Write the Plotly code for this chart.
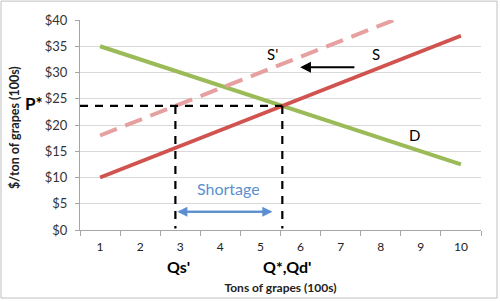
import numpy as np
import plotly.graph_objects as go

quantity = [1, 2, 3, 4, 5, 6, 7, 8, 9, 10]
supply = [10, 13, 16, 19, 22, 25, 28, 31, 34, 37]
demand = [35, 32.5, 30, 27.5, 25, 22.5, 20, 17.5, 15, 12.5]
supply_new = [18, 21, 24, 27, 30, 33, 36, 39, 42, 45]
y_ticks = [0, 5, 10, 15, 20, 25, 30, 35, 40]
y_labels = ["$" + str(v) for v in y_ticks]

q = np.array(quantity, float)
s = np.array(supply, float)
d = np.array(demand, float)
s2 = np.array(supply_new, float)
# equilibrium of S and D
sp = np.polyfit(q, s, 1)
dp = np.polyfit(q, d, 1)
s2p = np.polyfit(q, s2, 1)
q_star = (dp[1] - sp[1]) / (sp[0] - dp[0])
p_star = sp[0] * q_star + sp[1]
q_s2 = (p_star - s2p[1]) / s2p[0]

RED = "#D0534F"
PINK = "#E6A09F"
GREEN = "#9BBB59"
BLUE = "#5B8FCF"
FONT = "Lato, Open Sans, Liberation Sans, sans-serif"

fig = go.Figure()
fig.add_trace(go.Scatter(x=quantity, y=demand, mode="lines",
                         line=dict(color=GREEN, width=4), showlegend=False))
fig.add_trace(go.Scatter(x=quantity, y=supply, mode="lines",
                         line=dict(color=RED, width=4), showlegend=False))
fig.add_trace(go.Scatter(x=quantity, y=supply_new, mode="lines",
                         line=dict(color=PINK, width=4, dash="18px,9px"), showlegend=False))
# dashed guides
fig.add_trace(go.Scatter(x=[0.5, q_star], y=[p_star, p_star], mode="lines",
                         line=dict(color="black", width=2.2, dash="8px,7px"), showlegend=False))
fig.add_trace(go.Scatter(x=[q_s2, q_s2], y=[p_star, 0.3], mode="lines",
                         line=dict(color="black", width=2.2, dash="8px,7px"), showlegend=False))
fig.add_trace(go.Scatter(x=[q_star, q_star], y=[p_star, 0.3], mode="lines",
                         line=dict(color="black", width=2.2, dash="8px,7px"), showlegend=False))

ann = []
# shortage double arrow
ann.append(dict(x=q_s2 + 0.05, y=3.5, ax=q_star - 0.25, ay=3.5, xref="x", yref="y",
                axref="x", ayref="y", text="", showarrow=True, arrowhead=2,
                arrowsize=1, arrowwidth=2, arrowcolor=BLUE))
ann.append(dict(x=q_star - 0.25, y=3.5, ax=q_s2 + 0.05, ay=3.5, xref="x", yref="y",
                axref="x", ayref="y", text="", showarrow=True, arrowhead=2,
                arrowsize=1, arrowwidth=2, arrowcolor=BLUE))
ann.append(dict(x=(q_s2 + q_star) / 2 - 0.02, y=8.0, text="Shortage", showarrow=False,
                font=dict(size=16, color=BLUE, family=FONT)))
# shift arrow
ann.append(dict(x=5.99, y=31.0, ax=7.38, ay=31.0, xref="x", yref="y", axref="x", ayref="y",
                text="", showarrow=True, arrowhead=2, arrowsize=1.2, arrowwidth=1.8,
                arrowcolor="black"))
ann.append(dict(x=5.31, y=33.6, text="S'", showarrow=False,
                font=dict(size=15, color="black", family=FONT)))
ann.append(dict(x=7.88, y=33.6, text="S", showarrow=False,
                font=dict(size=15, color="black", family=FONT)))
ann.append(dict(x=8.83, y=18.1, text="D", showarrow=False,
                font=dict(size=15, color="black", family=FONT)))
ann.append(dict(x=-0.088, y=p_star + 0.5, xref="paper", yref="y", text="<b>P*</b>",
                showarrow=False, xanchor="right", yanchor="middle",
                font=dict(size=17, color="black", family=FONT)))
ann.append(dict(x=q_s2 + 0.07, y=-0.172, xref="x", yref="paper", text="<b>Qs'</b>",
                showarrow=False, yanchor="middle",
                font=dict(size=16, color="black", family=FONT)))
ann.append(dict(x=q_star + 0.12, y=-0.172, xref="x", yref="paper", text="<b>Q*,Qd'</b>",
                showarrow=False, yanchor="middle",
                font=dict(size=16, color="black", family=FONT)))
# y-axis title
ann.append(dict(x=-0.165, y=0.49, xref="paper", yref="paper", text="<b>$/ton of grapes (100s)</b>",
                textangle=-90, showarrow=False, xanchor="center", yanchor="middle",
                font=dict(size=12.5, color="#222222", family=FONT)))

fig.update_layout(
    width=500, height=301,
    margin=dict(l=80, r=19, t=20, b=71),
    paper_bgcolor="white", plot_bgcolor="white",
    font=dict(family=FONT, color="#222222"),
    annotations=ann,
    shapes=[dict(type="rect", xref="paper", yref="paper",
                 x0=-0.197, x1=1.04, y0=-0.324, y1=1.09,
                 line=dict(color="#BFBFBF", width=1), layer="below")],
)
fig.update_xaxes(
    range=[0.5, 10.5], tickvals=quantity, ticktext=[str(v) for v in quantity],
    ticks="", showgrid=False, zeroline=False, automargin=False,
    showline=True, linecolor="#A6A6A6", linewidth=1,
    tickfont=dict(size=12, color="#222222"), ticklabelstandoff=6,
    minor=dict(tickvals=[v - 0.5 for v in quantity] + [10.5], ticks="outside",
               ticklen=5, tickcolor="#A6A6A6", showgrid=False),
    title=dict(text="<b>Tons of grapes (100s)</b>", font=dict(size=12, color="#222222"),
               standoff=30),
)
fig.update_yaxes(
    range=[0, 40], tickvals=y_ticks, ticktext=y_labels,
    ticks="outside", ticklen=4, tickcolor="#A6A6A6",
    showgrid=True, gridcolor="#D9D9D9", gridwidth=1, zeroline=False, automargin=False,
    showline=True, linecolor="#A6A6A6", linewidth=1,
    tickfont=dict(size=13, color="#333333"), ticklabelstandoff=5,
)

fig.write_html("out.html")
